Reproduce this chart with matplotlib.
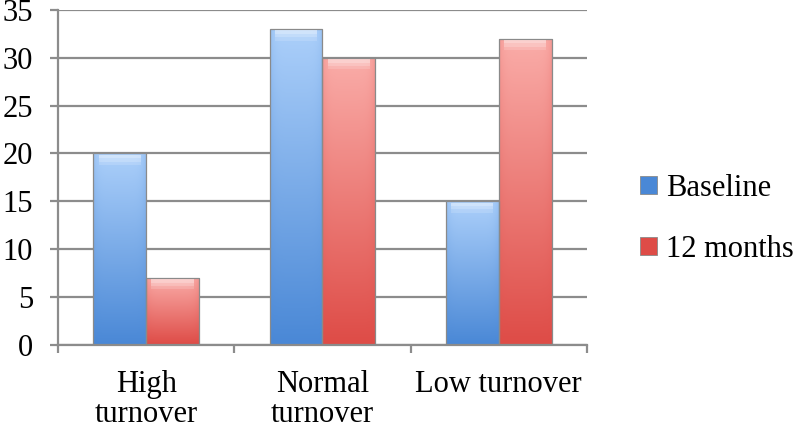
import matplotlib
matplotlib.use("Agg")
import matplotlib.pyplot as plt
import numpy as np
from matplotlib.colors import LinearSegmentedColormap
from matplotlib.patches import Rectangle

categories = ["High\nturnover", "Normal\nturnover", "Low turnover"]
series_names = ["Baseline", "12 months"]
baseline = [20, 33, 15]
months12 = [7, 30, 32]
yticks = [0, 5, 10, 15, 20, 25, 30, 35]

plt.rcParams["font.family"] = ["Liberation Serif", "DejaVu Serif"]
FS = 22

BLUE = ("#4a88d6", "#abcffa")   # bottom, top
RED = ("#de4c47", "#faaca8")
GRID = "#8c8c8c"

fig = plt.figure(figsize=(8, 4.29), dpi=100)
ax = fig.add_axes([0.0725, 0.196, 0.661, 0.781])

x = np.arange(len(categories))
w = 0.30


def gradient_bars(xpos, vals, cols, label):
    bars = ax.bar(xpos, vals, w, color=cols[0], edgecolor="#7f7f7f",
                  linewidth=0.6, label=label, zorder=2)
    cmap = LinearSegmentedColormap.from_list("g", [cols[0], cols[1]])
    for b in bars:
        x0, y0 = b.get_x(), b.get_y()
        bw, bh = b.get_width(), b.get_height()
        # vertical gradient, lighter at the top, a bit darker at the sides
        v = np.linspace(0, 1, 80)[:, None]
        h = np.linspace(-1, 1, 40)[None, :]
        img = np.clip(v * (0.82 + 0.18 * (1 - h ** 6)), 0, 1)
        im = ax.imshow(img, cmap=cmap, origin="lower", aspect="auto",
                       extent=(x0, x0 + bw, y0, y0 + bh), zorder=2.5,
                       vmin=0, vmax=1, interpolation="bilinear")
        im.set_clip_path(Rectangle((x0, y0), bw, bh, transform=ax.transData))
        ax.add_patch(Rectangle((x0, y0), bw, bh, fill=False,
                               edgecolor="#8a8a8a", linewidth=0.9, zorder=3))
        # shiny top cap
        for k, a in enumerate([0.45, 0.3, 0.15]):
            ax.add_patch(Rectangle((x0 + bw * 0.1, y0 + bh - 0.5 - 0.35 * k),
                                   bw * 0.8, 0.35, color="white", alpha=a,
                                   linewidth=0, zorder=3))
    return bars


gradient_bars(x - w / 2, baseline, BLUE, series_names[0])
gradient_bars(x + w / 2, months12, RED, series_names[1])

ax.set_xlim(-0.5, len(categories) - 0.5)
ax.set_ylim(0, 35)
ax.set_yticks(yticks)
ax.set_yticklabels([str(t) for t in yticks], fontsize=FS)
ax.yaxis.grid(True, color=GRID, linewidth=1.6, zorder=0)
ax.set_axisbelow(True)

ax.set_xticks(np.arange(len(categories) + 1) - 0.5)
ax.set_xticklabels([])
ax.set_xticks(x, minor=True)
ax.set_xticklabels(categories, minor=True, fontsize=FS, linespacing=1.07)
ax.tick_params(axis="x", which="minor", length=0, pad=18)
ax.tick_params(axis="x", which="major", length=6, width=1.6, color=GRID)
ax.tick_params(axis="y", length=6, width=1.6, color=GRID, pad=12)

for s in ["top", "right"]:
    ax.spines[s].set_visible(False)
for s in ["left", "bottom"]:
    ax.spines[s].set_color(GRID)
    ax.spines[s].set_linewidth(1.6)

handles = [Rectangle((0, 0), 1, 1, facecolor=c[0], edgecolor="#8a8a8a",
                     linewidth=0.6) for c in (BLUE, RED)]
fig.legend(handles, series_names, loc="center left",
           bbox_to_anchor=(0.8, 0.49), frameon=False, fontsize=FS,
           handlelength=0.55, handleheight=0.55, handletextpad=0.3,
           labelspacing=1.05, borderpad=0, borderaxespad=0)

fig.savefig("out.png", dpi=100)
